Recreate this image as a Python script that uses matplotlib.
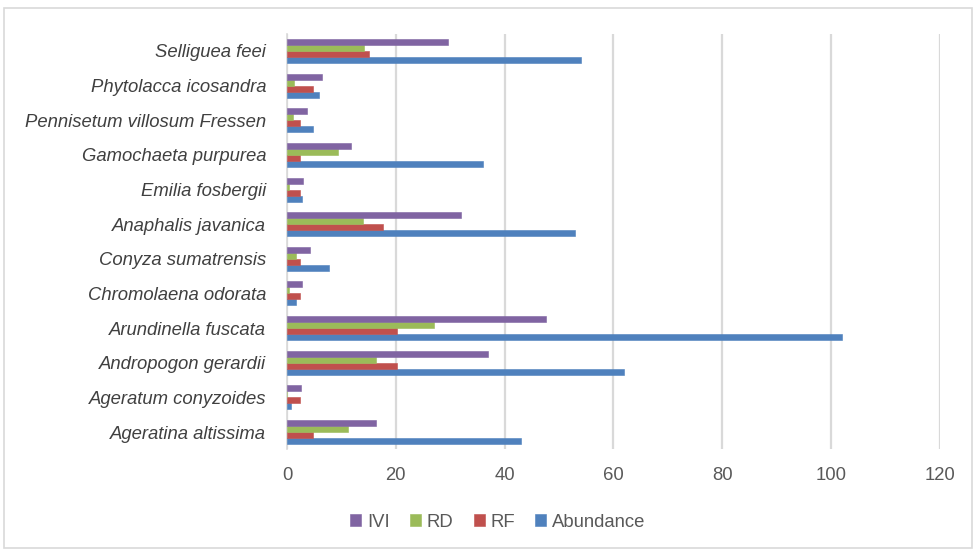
import matplotlib
matplotlib.use("Agg")
import matplotlib.pyplot as plt
import numpy as np
from matplotlib.patches import Rectangle

species = [
    "Ageratina altissima",
    "Ageratum conyzoides",
    "Andropogon gerardii",
    "Arundinella fuscata",
    "Chromolaena odorata",
    "Conyza sumatrensis",
    "Anaphalis javanica",
    "Emilia fosbergii",
    "Gamochaeta purpurea",
    "Pennisetum villosum Fressen",
    "Phytolacca icosandra",
    "Selliguea feei",
]
abundance = [43, 0.7, 62, 102, 1.7, 7.8, 53, 2.8, 36, 4.8, 5.8, 54]
rf = [4.7, 2.4, 20.2, 20.2, 2.4, 2.4, 17.6, 2.4, 2.4, 2.4, 4.7, 15.0]
rd = [11.2, 0.1, 16.3, 27.0, 0.3, 1.7, 13.9, 0.4, 9.3, 1.05, 1.3, 14.2]
ivi = [16.4, 2.6, 36.9, 47.6, 2.8, 4.3, 31.9, 3.0, 11.8, 3.7, 6.4, 29.6]
x_ticks = [0, 20, 40, 60, 80, 100, 120]

series = [
    ("Abundance", abundance, "#4F81BD"),
    ("RF", rf, "#C0504D"),
    ("RD", rd, "#9BBB59"),
    ("IVI", ivi, "#8064A2"),
]

plt.rcParams["font.family"] = ["Liberation Sans", "DejaVu Sans"]

fig = plt.figure(figsize=(9.76, 5.52), dpi=100)
ax = fig.add_axes([0.294, 0.186, 0.669, 0.753])

y = np.arange(len(species))
h = 0.173
offsets = np.array([-1.5, -0.5, 0.5, 1.5]) * h
handles = []
for (name, vals, color), off in zip(series, offsets):
    b = ax.barh(y + off, vals, height=h, color=color, edgecolor=color,
                linewidth=0.4, label=name, zorder=3)
    handles.append(b)

ax.set_xlim(0, 120)
ax.set_ylim(-0.5, len(species) - 0.5)
ax.set_xticks(x_ticks)
ax.set_yticks(y)
ax.set_yticklabels(species, fontstyle="italic", fontsize=13.3, color="#404040")
ax.tick_params(axis="y", length=0, pad=15)
ax.tick_params(axis="x", length=0, pad=13, labelsize=13.3, labelcolor="#595959")
ax.grid(axis="x", color="#D9D9D9", linewidth=1.6, zorder=0)
for s in ["top", "right", "bottom"]:
    ax.spines[s].set_visible(False)
ax.spines["left"].set_color("#D9D9D9")
ax.spines["left"].set_linewidth(1.2)

leg = fig.legend(handles[::-1], [s[0] for s in series[::-1]],
                 loc="center", bbox_to_anchor=(0.51, 0.054), ncol=4,
                 frameon=False, fontsize=13.3, handlelength=0.6,
                 handleheight=0.6, handletextpad=0.3, columnspacing=1.1)
for t in leg.get_texts():
    t.set_color("#595959")

fig.patches.append(Rectangle((4 / 976, 4 / 552), 968 / 976, 540 / 552,
                             transform=fig.transFigure, fill=False,
                             edgecolor="#D9D9D9", linewidth=1.2))

fig.savefig("out.png", dpi=100)
